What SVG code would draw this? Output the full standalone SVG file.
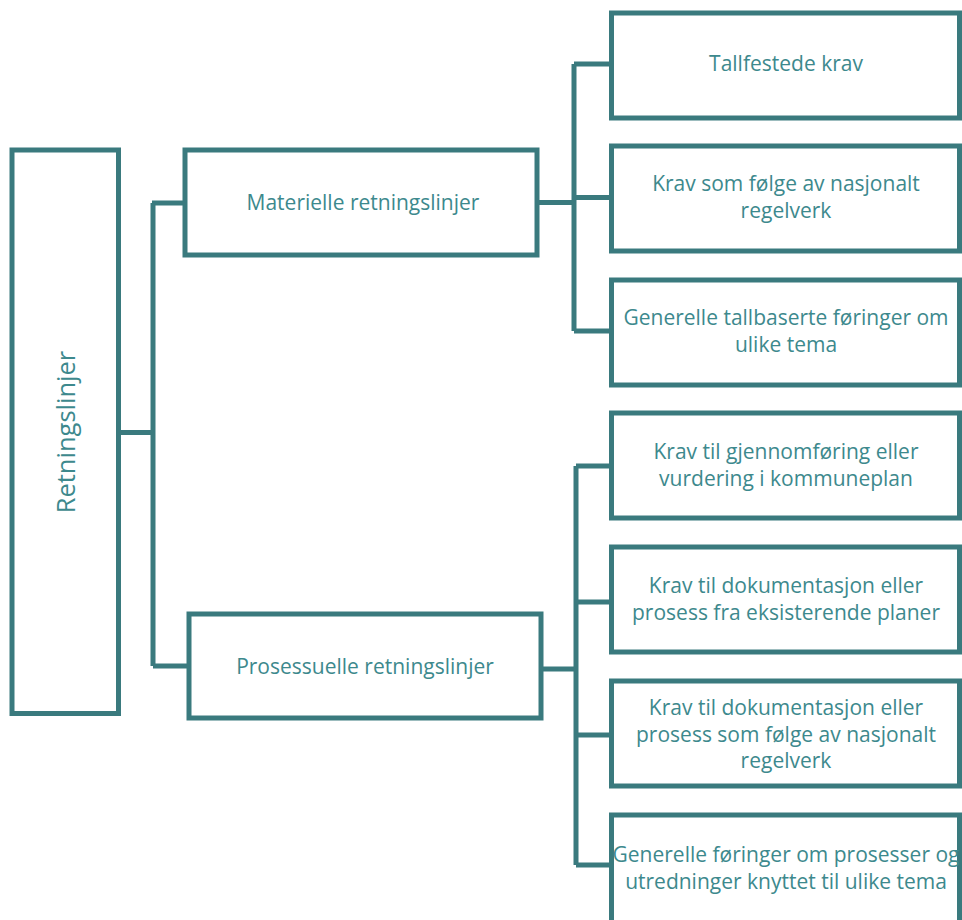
<svg xmlns="http://www.w3.org/2000/svg" width="962" height="920" viewBox="0 0 962 920">
<style>
.box{fill:#fff;stroke:#3a7a7e;stroke-width:5}
.ln{fill:none;stroke:#3a7a7e;stroke-width:5;stroke-linejoin:round}
text{font-family:"Open Sans","Liberation Sans",sans-serif;font-size:21px;fill:#3d898d;text-anchor:middle}
</style>
<rect width="962" height="920" fill="#fff"/>
<g id="connectors">
<path class="ln" d="M118.5 432.5H153M152 203H185M153 203V666M153 666H189"/>
<path class="ln" d="M537 202.5H574M574 64V331M574 64H611.5M574 197.5H611.5M574 331H611.5"/>
<path class="ln" d="M541 669H576M576 466V865M576 466H611.5M576 602H611.5M576 735H611.5M576 865H611.5"/>
</g>
<g id="root"><rect class="box" x="12" y="150" width="106.5" height="563.5"/><text transform="translate(75 432) rotate(-90)" style="font-size:25.5px">Retningslinjer</text></g>
<g id="materielle"><rect class="box" x="185" y="150" width="352" height="105"/><text x="363" y="210">Materielle retningslinjer</text></g>
<g id="prosessuelle"><rect class="box" x="189" y="614" width="352" height="104"/><text x="365" y="674">Prosessuelle retningslinjer</text></g>
<g id="r1"><rect class="box" x="611.5" y="13" width="348" height="105"/><text x="786" y="71">Tallfestede krav</text></g>
<g id="r2"><rect class="box" x="611.5" y="146" width="348" height="105"/><text x="786" y="191">Krav som følge av nasjonalt</text><text x="786" y="218">regelverk</text></g>
<g id="r3"><rect class="box" x="611.5" y="280" width="348" height="105"/><text x="786" y="325">Generelle tallbaserte føringer om</text><text x="786" y="352">ulike tema</text></g>
<g id="r4"><rect class="box" x="611.5" y="413" width="348" height="105"/><text x="786" y="459">Krav til gjennomføring eller</text><text x="786" y="486">vurdering i kommuneplan</text></g>
<g id="r5"><rect class="box" x="611.5" y="547" width="348" height="105"/><text x="786" y="593">Krav til dokumentasjon eller</text><text x="786" y="620">prosess fra eksisterende planer</text></g>
<g id="r6"><rect class="box" x="611.5" y="681" width="348" height="105"/><text x="786" y="715">Krav til dokumentasjon eller</text><text x="786" y="742">prosess som følge av nasjonalt</text><text x="786" y="768">regelverk</text></g>
<g id="r7"><rect class="box" x="611.5" y="815" width="348" height="112"/><text x="786" y="862">Generelle føringer om prosesser og</text><text x="786" y="889">utredninger knyttet til ulike tema</text></g>
</svg>
